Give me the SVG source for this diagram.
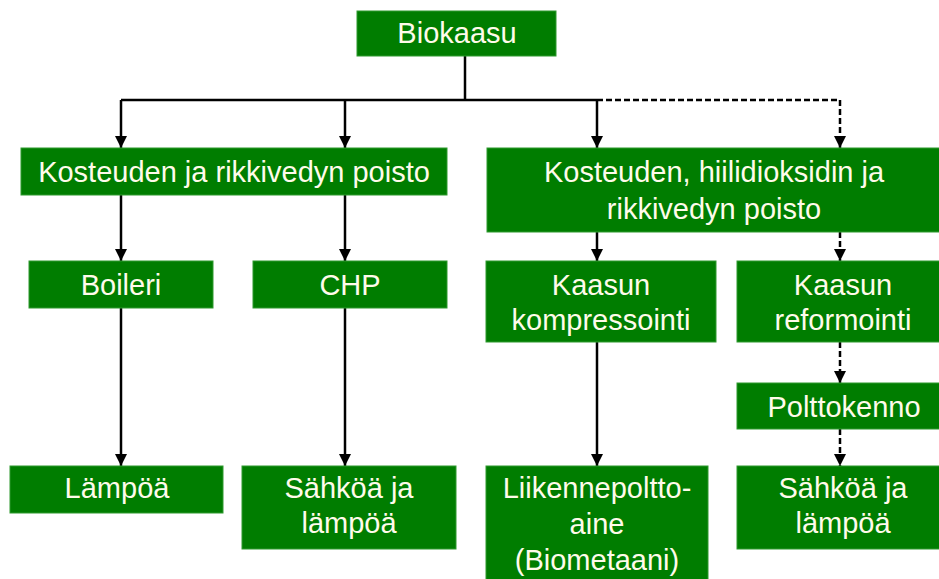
<svg xmlns="http://www.w3.org/2000/svg" width="939" height="579" viewBox="0 0 939 579">
<style>
.box{fill:#007d00;stroke:#2f9a2f;stroke-width:1}
.t{font-family:"Liberation Sans",Arial,sans-serif;font-size:29px;fill:#fffbea;text-anchor:middle}
.ln{fill:none;stroke:#000;stroke-width:2.5}
.ds{stroke-dasharray:6 3}
</style>
<defs>
<marker id="ah" viewBox="0 0 12 12" refX="6" refY="12" markerWidth="12" markerHeight="12" markerUnits="userSpaceOnUse" orient="auto-start-reverse">
<path d="M0,0 L12,0 L6,12 Z" fill="#000" transform="rotate(0)"/>
</marker>
<marker id="a" viewBox="0 0 12 13" refX="12" refY="6" markerWidth="12" markerHeight="13" markerUnits="userSpaceOnUse" orient="auto">
<path d="M0,0 L12,6 L0,12 Z" fill="#000"/>
</marker>
</defs>
<rect width="939" height="579" fill="#fff"/>
<g id="connectors">
<path class="ln" d="M465,56 V100" stroke-width="2"/>
<path class="ln" d="M121,100 H597" stroke-width="2"/>
<path class="ln ds" d="M597,100 H840" stroke-width="2"/>
<path class="ln" d="M121,100 V148" marker-end="url(#a)"/>
<path class="ln" d="M345,100 V148" marker-end="url(#a)"/>
<path class="ln" d="M597,100 V148" marker-end="url(#a)"/>
<path class="ln ds" d="M840,100 V148" marker-end="url(#a)"/>
<path class="ln" d="M121,195 V261" marker-end="url(#a)"/>
<path class="ln" d="M345,195 V261" marker-end="url(#a)"/>
<path class="ln" d="M597,232 V261" marker-end="url(#a)"/>
<path class="ln ds" d="M840,232 V261" marker-end="url(#a)"/>
<path class="ln" d="M121,308 V466" marker-end="url(#a)"/>
<path class="ln" d="M345,308 V466" marker-end="url(#a)"/>
<path class="ln" d="M597,342 V466" marker-end="url(#a)"/>
<path class="ln ds" d="M840,342 V383" marker-end="url(#a)"/>
<path class="ln ds" d="M840,429 V466" marker-end="url(#a)"/>
</g>
<g id="biokaasu"><rect class="box" x="357" y="11" width="199" height="45"/><text class="t" x="457" y="43">Biokaasu</text></g>
<g id="poisto1"><rect class="box" x="21" y="148" width="426" height="47"/><text class="t" x="234" y="182">Kosteuden ja rikkivedyn poisto</text></g>
<g id="poisto2"><rect class="box" x="487" y="148" width="460" height="84"/><text class="t" x="714" y="182">Kosteuden, hiilidioksidin ja</text><text class="t" x="714" y="219">rikkivedyn poisto</text></g>
<g id="boileri"><rect class="box" x="29" y="261" width="184" height="47"/><text class="t" x="121" y="295">Boileri</text></g>
<g id="chp"><rect class="box" x="253" y="261" width="194" height="47"/><text class="t" x="350" y="295">CHP</text></g>
<g id="kompressointi"><rect class="box" x="486" y="261" width="230" height="81"/><text class="t" x="601" y="295">Kaasun</text><text class="t" x="601" y="330">kompressointi</text></g>
<g id="reformointi"><rect class="box" x="737" y="261" width="212" height="81"/><text class="t" x="843" y="295">Kaasun</text><text class="t" x="843" y="330">reformointi</text></g>
<g id="polttokenno"><rect class="box" x="737" y="383" width="212" height="46"/><text class="t" x="844" y="417">Polttokenno</text></g>
<g id="lampoa"><rect class="box" x="10" y="466" width="213" height="47"/><text class="t" x="117" y="498">Lämpöä</text></g>
<g id="sahko1"><rect class="box" x="242" y="466" width="214" height="83"/><text class="t" x="349" y="498">Sähköä ja</text><text class="t" x="349" y="533">lämpöä</text></g>
<g id="liikenne"><rect class="box" x="486" y="466" width="222" height="120"/><text class="t" x="597" y="498">Liikennepoltto-</text><text class="t" x="597" y="534">aine</text><text class="t" x="597" y="570">(Biometaani)</text></g>
<g id="sahko2"><rect class="box" x="737" y="466" width="212" height="83"/><text class="t" x="843" y="498">Sähköä ja</text><text class="t" x="843" y="533">lämpöä</text></g>
</svg>
